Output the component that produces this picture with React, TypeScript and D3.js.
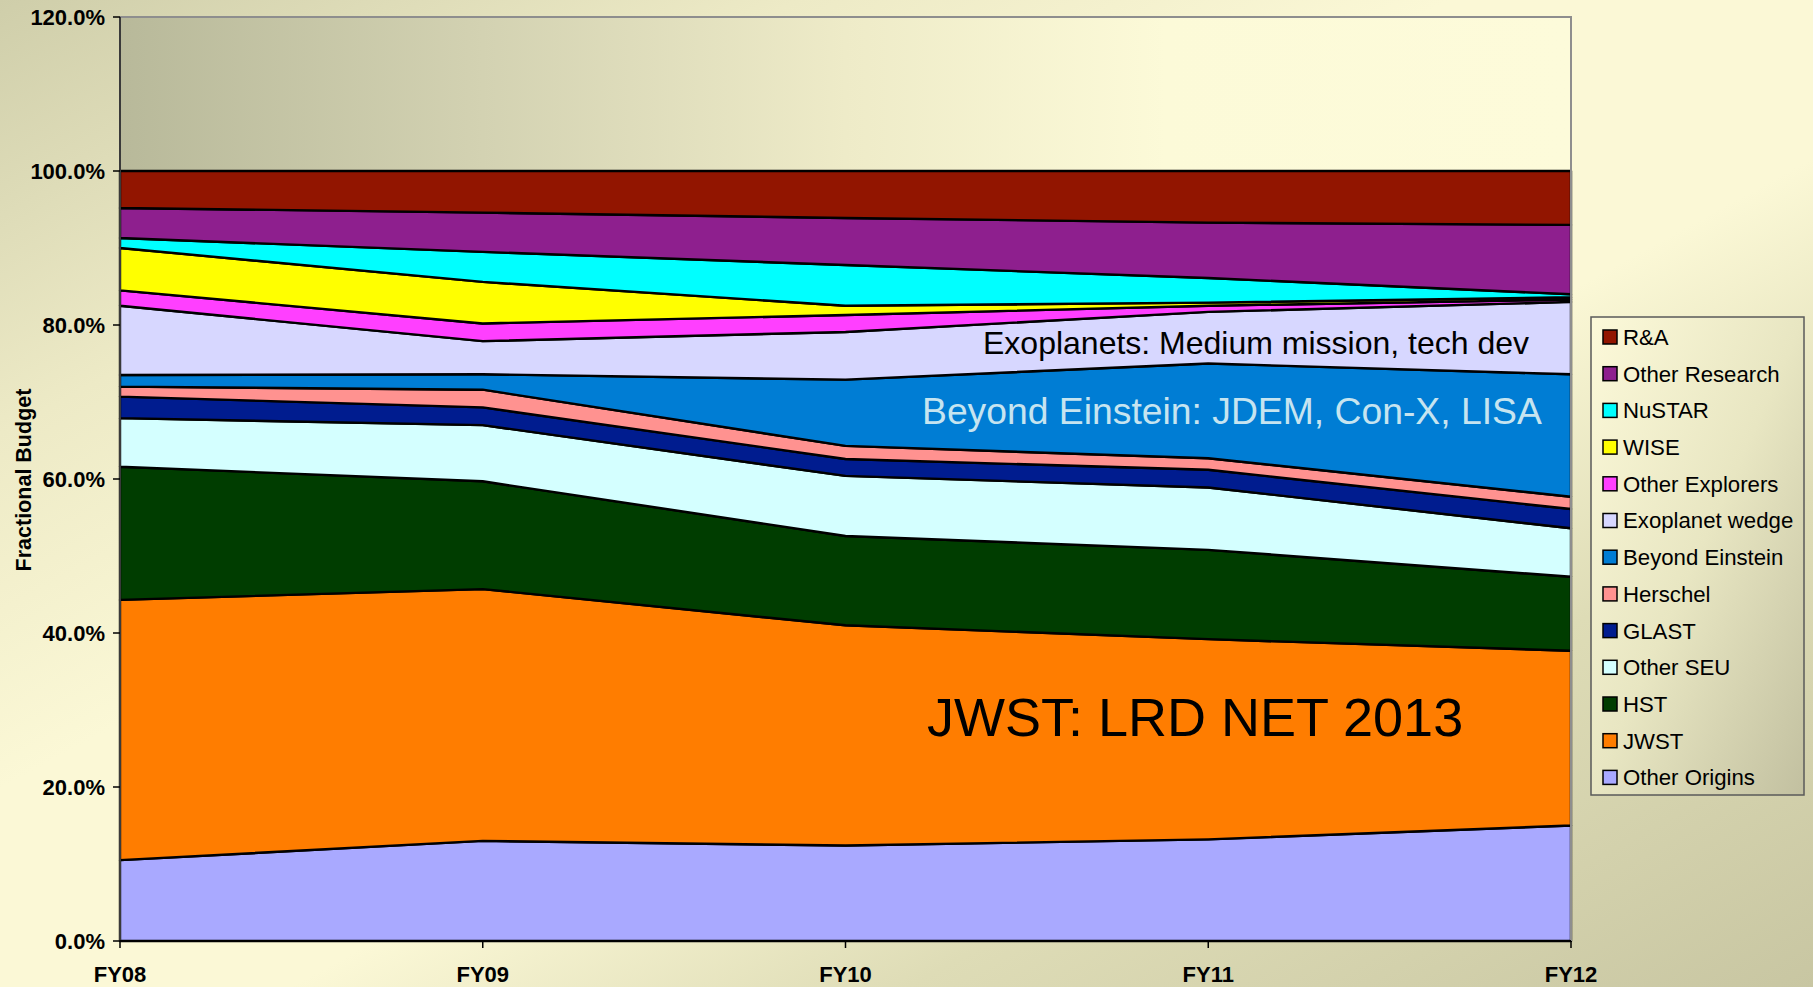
import React from 'react';
import * as d3 from 'd3';

const years = ['FY08', 'FY09', 'FY10', 'FY11', 'FY12'];

// series, bottom of stack to top (percent of budget)
const otherOrigins = [10.5, 13.0, 12.4, 13.2, 15.0];
const jwst = [33.8, 32.7, 28.6, 26.0, 22.7];
const hst = [17.3, 14.0, 11.6, 11.6, 9.6];
const otherSEU = [6.3, 7.3, 7.8, 8.1, 6.3];
const glast = [2.8, 2.3, 2.2, 2.3, 2.5];
const herschel = [1.3, 2.3, 1.7, 1.5, 1.6];
const beyondEinstein = [1.5, 2.0, 8.6, 12.3, 15.9];
const exoplanetWedge = [9.0, 4.3, 6.2, 6.7, 9.4];
const otherExplorers = [2.0, 2.3, 2.2, 0.8, 0.3];
const wise = [5.5, 5.4, 1.2, 0.4, 0.3];
const nustar = [1.3, 3.9, 5.3, 3.2, 0.4];
const otherResearch = [3.9, 5.1, 6.1, 7.2, 9.0];
const rAndA = [4.8, 5.4, 6.1, 6.7, 7.0];

const seriesNames = [
  'Other Origins', 'JWST', 'HST', 'Other SEU', 'GLAST', 'Herschel',
  'Beyond Einstein', 'Exoplanet wedge', 'Other Explorers', 'WISE',
  'NuSTAR', 'Other Research', 'R&A',
];
const seriesValues = [
  otherOrigins, jwst, hst, otherSEU, glast, herschel, beyondEinstein,
  exoplanetWedge, otherExplorers, wise, nustar, otherResearch, rAndA,
];
const seriesColors = [
  '#A9A9FF', '#FF7D00', '#003D00', '#D4FFFF', '#001C8F', '#FF9290',
  '#007DD4', '#D7D7FF', '#FF3FFF', '#FFFF00', '#00FFFF', '#8E1F8E', '#921500',
];

const yTicks = [0, 20, 40, 60, 80, 100, 120];

const W = 1813;
const H = 987;
const FONT = '"Liberation Sans", Arial, Helvetica, sans-serif';

export default function App() {
  const x = d3.scalePoint<string>().domain(years).range([120, 1571]);
  const y = d3.scaleLinear().domain([0, 120]).range([941, 17]);

  const rows = years.map((yr, i) => {
    const r: Record<string, any> = { year: yr };
    seriesNames.forEach((n, k) => { r[n] = seriesValues[k][i]; });
    return r;
  });
  const stacked = d3.stack<any>().keys(seriesNames)(rows);
  const area = d3.area<any>()
    .x((d) => x(d.data.year) as number)
    .y0((d) => y(d[0]))
    .y1((d) => y(d[1]))
    .curve(d3.curveLinear);

  const x0 = x(years[0]) as number;
  const x1 = x(years[years.length - 1]) as number;
  const yTop = y(120);
  const yBot = y(0);

  const legendItems = seriesNames.map((n, i) => ({ name: n, color: seriesColors[i] })).reverse();
  const legX = 1591, legY = 317, legW = 213, legH = 478;
  const legStep = 36.7;

  return (
    <svg width={W} height={H} style={{ position: 'absolute', left: 0, top: 0, display: 'block' }}
      xmlns="http://www.w3.org/2000/svg">
      <defs>
        <linearGradient id="bg" x1="0" y1="0" x2="1" y2="1">
          <stop offset="0" stopColor="#CFCEAA" />
          <stop offset="0.22" stopColor="#EDEAC6" />
          <stop offset="0.4" stopColor="#FBF8D6" />
          <stop offset="0.58" stopColor="#FBF8D6" />
          <stop offset="0.75" stopColor="#DEDCB6" />
          <stop offset="1" stopColor="#C8C6A2" />
        </linearGradient>
        <linearGradient id="plotbg" x1="0" y1="0" x2="1" y2="0">
          <stop offset="0" stopColor="#B8B99A" />
          <stop offset="0.25" stopColor="#D3D2B2" />
          <stop offset="0.5" stopColor="#EEEBC8" />
          <stop offset="0.72" stopColor="#FCFAD8" />
          <stop offset="1" stopColor="#FDFBDA" />
        </linearGradient>
        <linearGradient id="legbg" x1="0" y1="0" x2="1" y2="1">
          <stop offset="0" stopColor="#FCF9D9" />
          <stop offset="0.5" stopColor="#E8E6C2" />
          <stop offset="1" stopColor="#C2C0A0" />
        </linearGradient>
      </defs>

      <rect x={0} y={0} width={W} height={H} fill="url(#bg)" />
      <rect x={x0} y={yTop} width={x1 - x0} height={yBot - yTop} fill="url(#plotbg)" />

      {stacked.map((s, i) => (
        <path key={s.key} d={area(s) as string} fill={seriesColors[i]} stroke="#000" strokeWidth={2.4}
          strokeLinejoin="round" />
      ))}

      {/* plot border */}
      <path d={`M${x0},${yTop}H${x1}V${yBot}`} fill="none" stroke="#8E8E8E" strokeWidth={2} />
      <line x1={x0} y1={yTop} x2={x0} y2={yBot} stroke="#3A3A3A" strokeWidth={2} />
      <line x1={x0} y1={yBot} x2={x1} y2={yBot} stroke="#000" strokeWidth={2} />

      {/* y axis */}
      {yTicks.map((t) => (
        <g key={t}>
          <line x1={x0 - 7} x2={x0} y1={y(t)} y2={y(t)} stroke="#000" strokeWidth={1.5} />
          <text x={x0 - 15} y={y(t)} dy="0.36em" textAnchor="end" fontFamily={FONT} fontWeight="bold"
            fontSize={22} fill="#000">{d3.format('.1f')(t) + '%'}</text>
        </g>
      ))}

      {/* x axis */}
      {years.map((yr) => (
        <g key={yr}>
          <line x1={x(yr) as number} x2={x(yr) as number} y1={yBot} y2={yBot + 7} stroke="#000" strokeWidth={1.5} />
          <text x={x(yr) as number} y={yBot + 41} textAnchor="middle" fontFamily={FONT} fontWeight="bold"
            fontSize={22} fill="#000">{yr}</text>
        </g>
      ))}

      <text transform={`translate(23,480) rotate(-90)`} textAnchor="middle" dy="0.36em" fontFamily={FONT}
        fontWeight="bold" fontSize={21.5} fill="#000">Fractional Budget</text>

      {/* annotations */}
      <text x={983} y={354} fontFamily={FONT} fontSize={32} fill="#000">Exoplanets: Medium mission, tech dev</text>
      <text x={922} y={424} fontFamily={FONT} fontSize={37.3} fill="#C6E4F0">Beyond Einstein: JDEM, Con-X, LISA</text>
      <text x={927} y={736} fontFamily={FONT} fontSize={54} fill="#000">JWST: LRD NET 2013</text>

      {/* legend */}
      <rect x={legX} y={legY} width={legW} height={legH} fill="url(#legbg)" stroke="#5A5A5A" strokeWidth={1.5} />
      {legendItems.map((it, i) => {
        const cy = legY + 20 + i * legStep;
        return (
          <g key={it.name}>
            <rect x={legX + 12} y={cy - 7} width={14} height={14} fill={it.color} stroke="#000" strokeWidth={1.5} />
            <text x={legX + 32} y={cy} dy="0.36em" fontFamily={FONT} fontSize={22.2} fill="#000">{it.name}</text>
          </g>
        );
      })}
    </svg>
  );
}
